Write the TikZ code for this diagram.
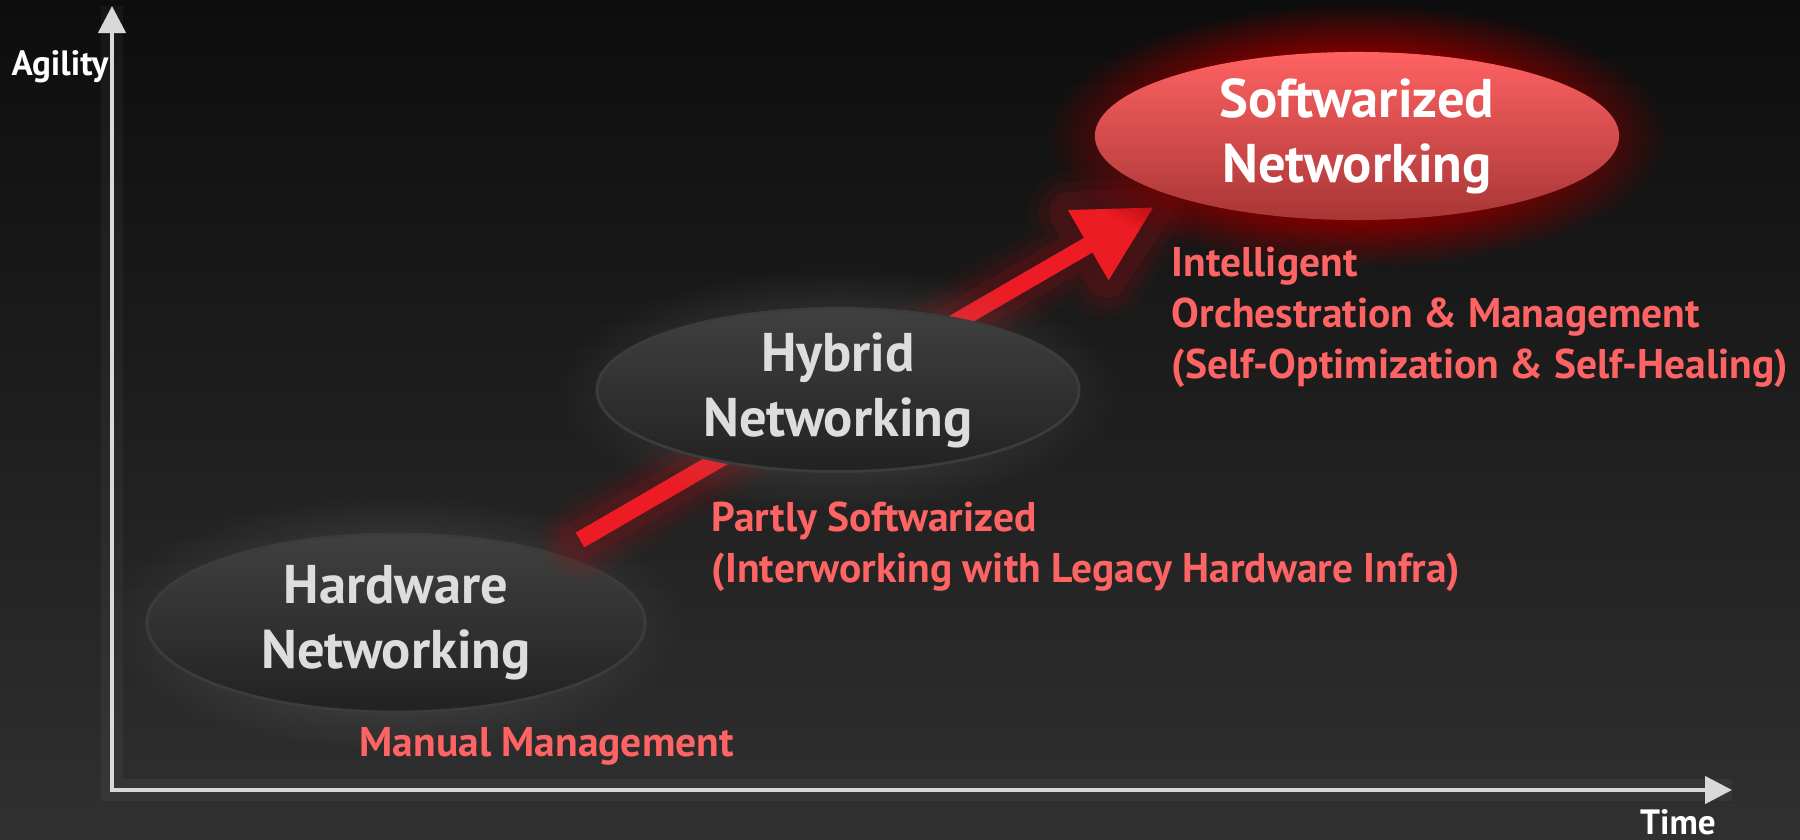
\documentclass[tikz,border=0pt]{standalone}
\usepackage{fontspec}
\setmainfont{PT Sans}
\usetikzlibrary{arrows.meta,shapes.geometric,fadings}

\definecolor{bgtop}{HTML}{0D0D0D}
\definecolor{bgbot}{HTML}{303030}
\definecolor{axis}{HTML}{D9D9D9}
\definecolor{tagred}{HTML}{FF6464}
\definecolor{arrowred}{HTML}{ED1C24}
\definecolor{glowred}{HTML}{A00E14}
\definecolor{swtop}{HTML}{FF6262}
\definecolor{swbot}{HTML}{A83636}
\definecolor{swglow}{HTML}{7A0000}
\definecolor{gtop}{HTML}{404040}
\definecolor{gbot}{HTML}{222222}
\definecolor{gedge}{HTML}{3C3C3C}
\definecolor{gtext}{HTML}{DDDDDD}

%miekka poswiata
\pgfdeclareradialshading{glowshade}{\pgfpointorigin}{%
  color(0bp)=(pgftransparent!0); color(16bp)=(pgftransparent!0);
  color(25bp)=(pgftransparent!100); color(50bp)=(pgftransparent!100)}
\pgfdeclarefading{glowfade}{\pgfuseshading{glowshade}}

\begin{document}
\begin{tikzpicture}[x=0.01cm, y=-0.01cm]
\tikzset{
    %groty osi
    >={Triangle[length=0.27cm, width=0.27cm]},
    %osie
    os/.style={line width=0.045cm, draw=axis},
    osglow/.style={line width=0.22cm, draw=white, opacity=0.04},
    %elipsy etapow
    stage/.style={
           ellipse, inner sep=0pt,
           draw=gedge, line width=0.8pt,
           top color=gtop, bottom color=gbot,
           text=gtext, align=center,
           font=\fontsize{15.5}{18.5}\selectfont\bfseries},
    %opisy
    tag/.style={text=tagred, align=left, anchor=west, inner sep=0pt,
           font=\fontsize{11.8}{14.5}\selectfont\bfseries},
    axlabel/.style={text=white, font=\fontsize{10}{12}\selectfont\bfseries},
    redglow/.style={draw=glowred, fill=glowred, line cap=round, line join=round}
}
%tlo
\shade[top color=bgtop, bottom color=bgbot] (0,0) rectangle (1800,839);
\useasboundingbox (0,0) rectangle (1800,839);

%osie
\coordinate (o)    at (112,790);
\coordinate (ytop) at (112,6);
\coordinate (xend) at (1732,790);
\draw[osglow] (ytop) -- (o) -- (xend);
\draw[os,<->] (ytop) -- (o) -- (xend);
\node[axlabel] (agility) at (60,67)   {Agility};
\node[axlabel] (time)    at (1678,822) {Time};

%Hardware
\fill[gray, opacity=0.18, path fading=glowfade] (396,623) ellipse [x radius=290, y radius=130];
\node[stage, minimum width=4.98cm, minimum height=1.78cm] (hw) at (396,623) {Hardware\\Networking};
\node[tag] (manual) at (359,746) {Manual Management};

%strzalka
\coordinate (redfrom) at (580,540);
\coordinate (redto)   at (1154,207);
\coordinate (redbase) at (1088,245);
\coordinate (redc1)   at (1069,212);
\coordinate (redc2)   at (1107,278);
\filldraw[redglow, line width=0.8cm, opacity=0.08] (redfrom) -- (redbase) (redto) -- (redc1) -- (redc2) -- cycle;
\filldraw[redglow, line width=0.6cm, opacity=0.12] (redfrom) -- (redbase) (redto) -- (redc1) -- (redc2) -- cycle;
\filldraw[redglow, line width=0.4cm, opacity=0.18] (redfrom) -- (redbase) (redto) -- (redc1) -- (redc2) -- cycle;
\draw[arrowred, line width=0.17cm, -{Triangle[length=0.76cm, width=0.76cm]}] (redfrom) -- (redto);

%Hybrid
\fill[gray, opacity=0.18, path fading=glowfade] (838,390) ellipse [x radius=282, y radius=122];
\node[stage, minimum width=4.82cm, minimum height=1.6cm] (hyb) at (838,390) {Hybrid\\Networking};
\node[tag] (partly) at (711,547) {Partly Softwarized\\(Interworking with Legacy Hardware Infra)};

%Softwarized
\fill[swglow, path fading=glowfade] (1357,136) ellipse [x radius=310, y radius=132];
\node[stage, draw=none, top color=swtop, bottom color=swbot, text=white,
      minimum width=5.24cm, minimum height=1.68cm] (sw) at (1357,136) {Softwarized\\Networking};
\node[tag] (intel) at (1171,317) {Intelligent\\Orchestration \& Management\\(Self-Optimization \& Self-Healing)};
\end{tikzpicture}
\end{document}
